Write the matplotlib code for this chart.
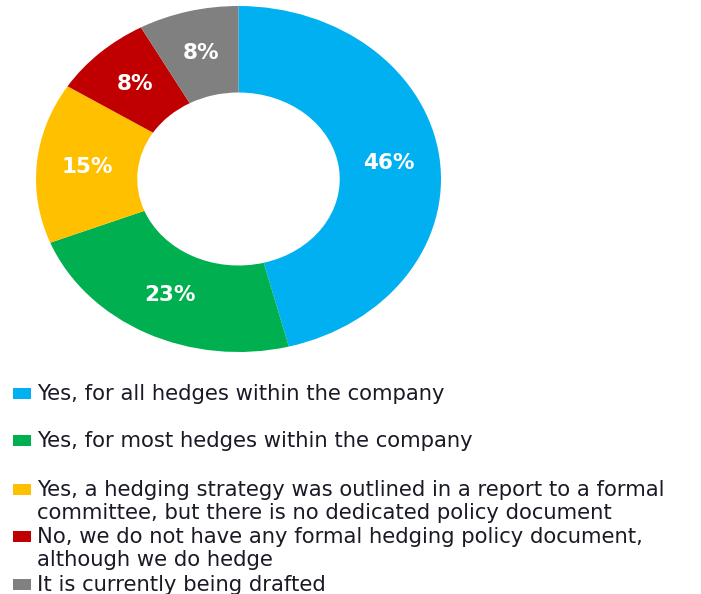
import matplotlib
matplotlib.use("Agg")
import matplotlib.pyplot as plt
from matplotlib.patches import Rectangle

labels = [
    ["Yes, for all hedges within the company"],
    ["Yes, for most hedges within the company"],
    ["Yes, a hedging strategy was outlined in a report to a formal",
     "committee, but there is no dedicated policy document"],
    ["No, we do not have any formal hedging policy document,",
     "although we do hedge"],
    ["It is currently being drafted"],
]
shares = [46, 23, 15, 8, 8]
colors = ["#00B0F0", "#00B050", "#FFC000", "#C00000", "#808080"]

W, H = 701, 594
fig = plt.figure(figsize=(W / 100, H / 100), dpi=100)
fig.patch.set_facecolor("white")

# donut is slightly wider than tall
ax = fig.add_axes([36 / W, 1 - 352 / H, 405 / W, 346 / H])
wedges, texts = ax.pie(
    shares,
    colors=colors,
    startangle=90,
    counterclock=False,
    radius=1.0,
    labels=[f"{v}%" for v in shares],
    labeldistance=0.75,
    wedgeprops=dict(width=0.5, edgecolor="none"),
    textprops=dict(color="white", fontsize=15.5, fontweight="bold",
                   family="DejaVu Sans"),
)
for t in texts:
    t.set_ha("center")
    t.set_va("center")
ax.set_aspect("auto")
ax.set_xlim(-1, 1)
ax.set_ylim(-1, 1)

# legend rows, drawn by hand to keep the uneven spacing
row_y = [393, 440, 489, 536, 584]
line_gap = 23
for lines, col, y in zip(labels, colors, row_y):
    fig.patches.append(Rectangle((13 / W, 1 - (y + 5.5) / H), 18 / W, 11 / H,
                                 transform=fig.transFigure, facecolor=col,
                                 edgecolor="none"))
    for i, line in enumerate(lines):
        fig.text(37 / W, 1 - (y + 7 + i * line_gap) / H, line,
                 ha="left", va="baseline", fontsize=15.2,
                 family="DejaVu Sans", color="#1a1a26")

fig.savefig("out.png", dpi=100, facecolor="white")
